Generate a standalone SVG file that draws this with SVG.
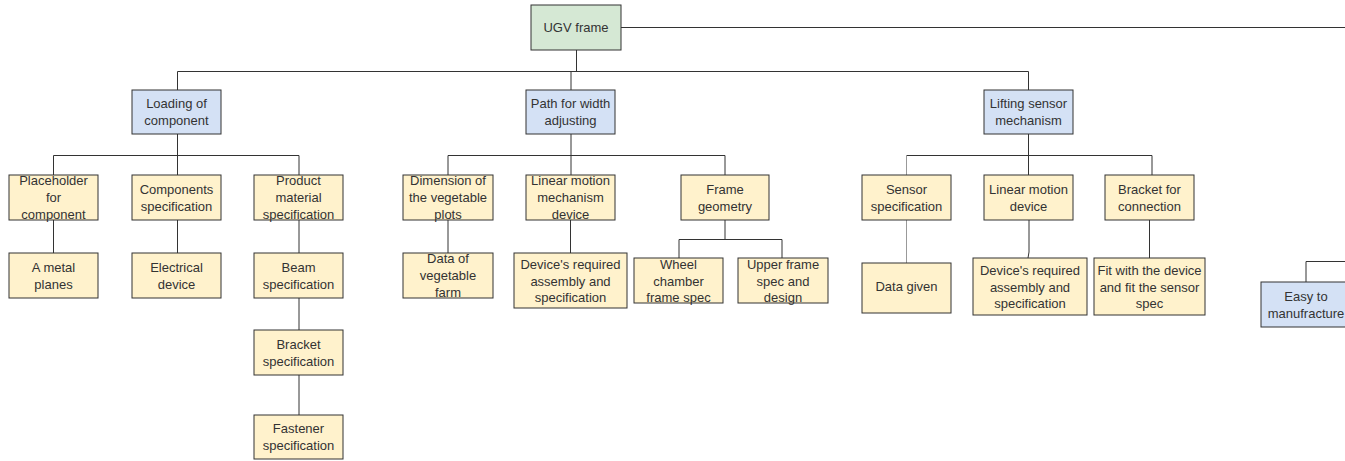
<svg xmlns="http://www.w3.org/2000/svg" width="1345" height="461" viewBox="0 0 1345 461">
<style>
  .n rect{stroke:#333;stroke-width:1}
  .g{fill:#d5e8d4}
  .b{fill:#d4e1f5}
  .y{fill:#fff2cc}
  text{font-family:"Liberation Sans",Arial,sans-serif;font-size:13px;fill:#333;text-anchor:middle}
  .c path{fill:none;stroke:#333;stroke-width:1}
  .c path.l{stroke:#999}
</style>
<rect width="1345" height="461" fill="#fff"/>
<g class="c" id="connectors">
  <path d="M621 27.5H1345"/>
  <path d="M576.5 50V71.5M177.5 71.5H1028.5M177.5 71.5V90M571 71.5V90M1028.5 71.5V90"/>
  <path d="M177.5 134V155.5M53.5 155.5H299M53.5 155.5V175M177.5 155.5V175M299 155.5V175"/>
  <path d="M53.5 220V253M177.5 220V253M299 220V253M299 298V330M299 375V415"/>
  <path d="M571 134V155.5M448 155.5H725M448 155.5V175M571 155.5V175M725 155.5V175"/>
  <path d="M448 220V253M570.5 220V253M725 220V239.5M679 239.5H782M679 239.5V258M782 239.5V258"/>
  <path d="M1028.5 134V155.5M906.5 155.5H1152M1028.5 155.5V175M1152 155.5V175"/>
  <path class="l" d="M906.5 155.5V175M906.5 220V263"/>
  <path d="M1029 220V252L1028 258M1149.5 220V258"/>
  <path d="M1306 282V261.5H1345"/>
</g>
<g class="n" id="root"><rect class="g" x="531" y="5" width="90" height="45"/><text x="576" y="32">UGV frame</text></g>
<g class="n" id="loading"><rect class="b" x="132" y="90" width="89" height="44"/><text x="176.5" y="108">Loading of</text><text x="176.5" y="125">component</text></g>
<g class="n" id="path"><rect class="b" x="526" y="90" width="89" height="44"/><text x="570.5" y="108">Path for width</text><text x="570.5" y="125">adjusting</text></g>
<g class="n" id="lifting"><rect class="b" x="984" y="90" width="89" height="44"/><text x="1028.5" y="108">Lifting sensor</text><text x="1028.5" y="125">mechanism</text></g>
<g class="n" id="placeholder"><rect class="y" x="9" y="175" width="89" height="45"/><text x="53.5" y="185">Placeholder</text><text x="53.5" y="202">for</text><text x="53.5" y="219">component</text></g>
<g class="n" id="components"><rect class="y" x="132" y="175" width="89" height="45"/><text x="176.5" y="194">Components</text><text x="176.5" y="211">specification</text></g>
<g class="n" id="product"><rect class="y" x="254" y="175" width="89" height="45"/><text x="298.5" y="185">Product</text><text x="298.5" y="202">material</text><text x="298.5" y="219">specification</text></g>
<g class="n" id="metal"><rect class="y" x="9" y="253" width="89" height="45"/><text x="53.5" y="272">A metal</text><text x="53.5" y="289">planes</text></g>
<g class="n" id="electrical"><rect class="y" x="132" y="253" width="89" height="45"/><text x="176.5" y="272">Electrical</text><text x="176.5" y="289">device</text></g>
<g class="n" id="beam"><rect class="y" x="254" y="253" width="89" height="45"/><text x="298.5" y="272">Beam</text><text x="298.5" y="289">specification</text></g>
<g class="n" id="bracketspec"><rect class="y" x="254" y="330" width="89" height="45"/><text x="298.5" y="349">Bracket</text><text x="298.5" y="366">specification</text></g>
<g class="n" id="fastener"><rect class="y" x="254" y="415" width="89" height="44"/><text x="298.5" y="433">Fastener</text><text x="298.5" y="450">specification</text></g>
<g class="n" id="dimension"><rect class="y" x="403" y="175" width="90" height="45"/><text x="448" y="185">Dimension of</text><text x="448" y="202">the vegetable</text><text x="448" y="219">plots</text></g>
<g class="n" id="linearmech"><rect class="y" x="526" y="175" width="89" height="45"/><text x="570.5" y="185">Linear motion</text><text x="570.5" y="202">mechanism</text><text x="570.5" y="219">device</text></g>
<g class="n" id="framegeo"><rect class="y" x="681" y="175" width="88" height="45"/><text x="725" y="194">Frame</text><text x="725" y="211">geometry</text></g>
<g class="n" id="datafarm"><rect class="y" x="403" y="253" width="90" height="45"/><text x="448" y="263">Data of</text><text x="448" y="280">vegetable</text><text x="448" y="297">farm</text></g>
<g class="n" id="devreq1"><rect class="y" x="514" y="253" width="113" height="55"/><text x="570.5" y="268.5">Device's required</text><text x="570.5" y="285.5">assembly and</text><text x="570.5" y="302">specification</text></g>
<g class="n" id="wheel"><rect class="y" x="634" y="258" width="89" height="45"/><text x="678.5" y="268.5">Wheel</text><text x="678.5" y="285.5">chamber</text><text x="678.5" y="302">frame spec</text></g>
<g class="n" id="upper"><rect class="y" x="738" y="258" width="90" height="45"/><text x="783" y="268.5">Upper frame</text><text x="783" y="285.5">spec and</text><text x="783" y="302">design</text></g>
<g class="n" id="sensor"><rect class="y" x="862" y="175" width="89" height="45"/><text x="906.5" y="194">Sensor</text><text x="906.5" y="211">specification</text></g>
<g class="n" id="lineardev"><rect class="y" x="984" y="175" width="89" height="45"/><text x="1028.5" y="194">Linear motion</text><text x="1028.5" y="211">device</text></g>
<g class="n" id="bracketconn"><rect class="y" x="1105" y="175" width="89" height="45"/><text x="1149.5" y="194">Bracket for</text><text x="1149.5" y="211">connection</text></g>
<g class="n" id="datagiven"><rect class="y" x="862" y="263" width="89" height="50"/><text x="906.5" y="290.5">Data given</text></g>
<g class="n" id="devreq2"><rect class="y" x="973" y="258" width="114" height="57"/><text x="1030" y="274.5">Device's required</text><text x="1030" y="291.5">assembly and</text><text x="1030" y="308">specification</text></g>
<g class="n" id="fitwith"><rect class="y" x="1094" y="258" width="111" height="57"/><text x="1149.5" y="274.5">Fit with the device</text><text x="1149.5" y="291.5">and fit the sensor</text><text x="1149.5" y="308">spec</text></g>
<g class="n" id="easy"><rect class="b" x="1261" y="282" width="90" height="45"/><text x="1306" y="300.5">Easy to</text><text x="1306" y="317.5">manufracture</text></g>
</svg>
